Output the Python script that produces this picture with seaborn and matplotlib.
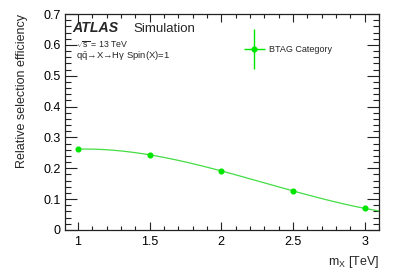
import numpy as np
import pandas as pd
import matplotlib
matplotlib.use("Agg")
import matplotlib.pyplot as plt
import seaborn as sns
from matplotlib.ticker import MultipleLocator, FixedLocator
from matplotlib.container import ErrorbarContainer
from matplotlib.legend_handler import HandlerErrorbar

# ---- data ----
mass_tev = [1.0, 1.5, 2.0, 2.5, 3.0]
efficiency = [0.262, 0.244, 0.191, 0.127, 0.070]
series_label = "BTAG Category"
x_ticks = [1, 1.5, 2, 2.5, 3]
x_tick_labels = ["1", "1.5", "2", "2.5", "3"]
y_ticks = [0, 0.1, 0.2, 0.3, 0.4, 0.5, 0.6, 0.7]
y_tick_labels = ["0", "0.1", "0.2", "0.3", "0.4", "0.5", "0.6", "0.7"]

sns.set_theme(style="ticks")
plt.rcParams["font.family"] = ["Liberation Sans", "DejaVu Sans"]
plt.rcParams["mathtext.fontset"] = "custom"
plt.rcParams["mathtext.rm"] = "Liberation Sans"
plt.rcParams["mathtext.it"] = "Liberation Sans:italic"

fig = plt.figure(figsize=(3.99, 2.75), dpi=100)
ax = fig.add_axes([65 / 399, 45 / 275, 314 / 399, 216 / 275])

GREEN = "#00e600"
LINE_GREEN = "#44dd44"

# smooth fit curve (cubic polynomial fit of the points)
coef = np.polyfit(mass_tev, efficiency, 3)
xf = np.linspace(1.0, 3.1, 200)
fit_df = pd.DataFrame({"m": xf, "eff": np.polyval(coef, xf)})
sns.lineplot(data=fit_df, x="m", y="eff", ax=ax, color=LINE_GREEN, lw=0.9)

df = pd.DataFrame({"m": mass_tev, "eff": efficiency})
eb = ax.errorbar(df["m"], df["eff"], xerr=0, yerr=0, fmt="o", color=GREEN,
                 ms=3.4, elinewidth=1.0, capsize=0, label=series_label)

ax.set_xlim(0.91, 3.1)
ax.set_ylim(0, 0.7)
ax.xaxis.set_major_locator(FixedLocator(x_ticks))
ax.set_xticklabels(x_tick_labels)
ax.xaxis.set_minor_locator(MultipleLocator(0.1))
ax.yaxis.set_major_locator(FixedLocator(y_ticks))
ax.set_yticklabels(y_tick_labels)
ax.yaxis.set_minor_locator(MultipleLocator(0.02))

ax.tick_params(axis="both", which="both", direction="in", top=True, right=True,
               colors="#222222", labelcolor="black", labelsize=9, width=0.8)
ax.tick_params(axis="x", which="major", length=6, pad=4)
ax.tick_params(axis="x", which="minor", length=3)
ax.tick_params(axis="y", which="major", length=8.5, pad=3)
ax.tick_params(axis="y", which="minor", length=4.3)
for s in ax.spines.values():
    s.set_color("#222222")
    s.set_linewidth(0.9)

ax.set_xlabel(r"m$_\mathrm{X}$ [TeV]", fontsize=9, loc="right", labelpad=5)
ax.set_ylabel("Relative selection efficiency", fontsize=9, loc="top", labelpad=11)

ax.text(0.024, 0.918, "ATLAS", transform=ax.transAxes, fontsize=10.2,
        fontweight="bold", style="italic")
ax.text(0.217, 0.918, "Simulation", transform=ax.transAxes, fontsize=9.5)
ax.text(0.035, 0.845, r"$\sqrt{\mathrm{s}}$ = 13 TeV", transform=ax.transAxes, fontsize=6.3)
ax.text(0.035, 0.795, r"$\mathrm{q\bar{q}}$→X→Hγ Spin(X)=1",
        transform=ax.transAxes, fontsize=6.8)

leg = ax.legend(handles=[eb], labels=[series_label], loc="center left",
                bbox_to_anchor=(0.554, 0.836), frameon=False, fontsize=6.5,
                handlelength=2.4, handletextpad=0.4, borderpad=0,
                handler_map={ErrorbarContainer: HandlerErrorbar(xerr_size=1.15, yerr_size=2.2)})

fig.savefig("out.png", dpi=100)
